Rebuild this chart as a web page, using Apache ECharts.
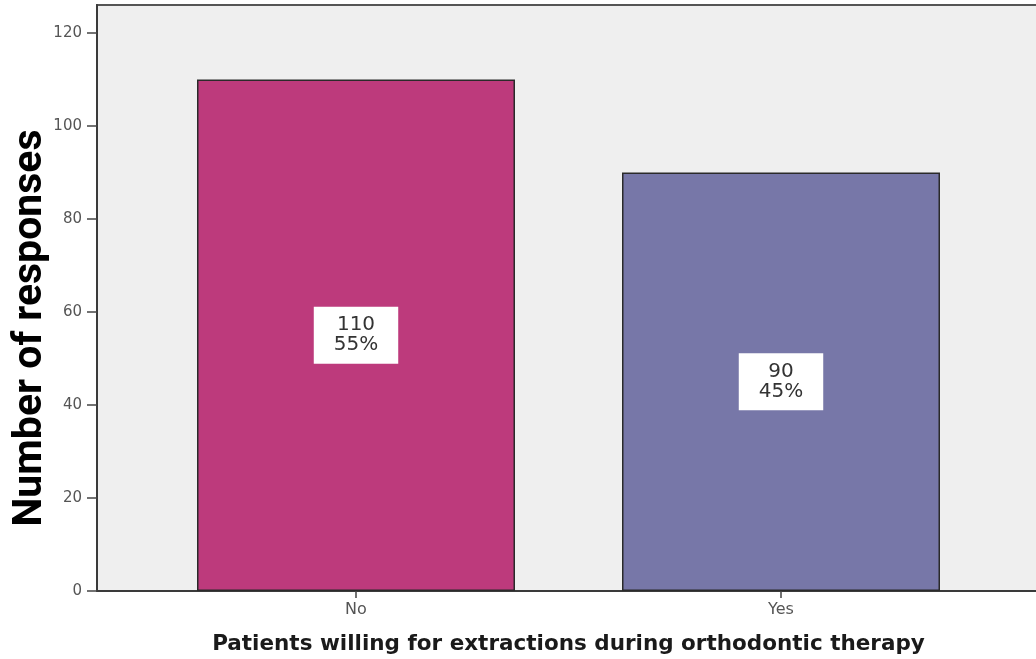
<!DOCTYPE html>
<html>
<head>
<meta charset="utf-8">
<script src="https://cdn.jsdelivr.net/npm/echarts@6/dist/echarts.min.js"></script>
<style>
html,body{margin:0;padding:0;background:#fff;}
#chart{width:1036px;height:659px;}
</style>
</head>
<body>
<div id="chart"></div>
<script>
var categories = ['No', 'Yes'];
var counts = [110, 90];
var percents = ['55%', '45%'];
var barColors = ['#BD3A7C', '#7777A8'];
var yTicks = [0, 20, 40, 60, 80, 100, 120];
var yMax = 126;

var chart = echarts.init(document.getElementById('chart'), null, {renderer: 'canvas'});

var seriesData = counts.map(function (v, i) {
  return {
    value: v,
    itemStyle: {color: barColors[i]},
    label: {formatter: counts[i] + '\n' + percents[i]}
  };
});

var option = {
  backgroundColor: '#ffffff',
  animation: false,
  grid: [
    {left: 97, top: 5, right: -80, bottom: 68, show: true, backgroundColor: '#efefef', borderColor: '#555', borderWidth: 2, outerBoundsMode: 'none', containLabel: false},
    {left: 143.5, width: 850, top: 5, bottom: 68, outerBoundsMode: 'none', containLabel: false}
  ],
  xAxis: [
    {
      gridIndex: 0, type: 'category', data: [''],
      axisLine: {show: true, lineStyle: {color: '#3a3a3a', width: 2}},
      axisTick: {show: false}, axisLabel: {show: false}, splitLine: {show: false}
    },
    {
      gridIndex: 1, type: 'category', data: categories,
      axisLine: {show: false},
      axisTick: {show: true, alignWithLabel: true, length: 7, lineStyle: {color: '#444', width: 1.5}},
      axisLabel: {color: '#555', fontSize: 16, fontFamily: 'DejaVu Sans', margin: 11},
      name: 'Patients willing for extractions during orthodontic therapy',
      nameLocation: 'middle', nameGap: 42, nameMoveOverlap: false,
      nameTextStyle: {color: '#1a1a1a', fontSize: 21.5, fontWeight: 'bold', fontFamily: 'DejaVu Sans', verticalAlign: 'top'}
    }
  ],
  yAxis: [
    {
      gridIndex: 0, type: 'value', min: 0, max: yMax, interval: 20,
      axisLine: {show: true, lineStyle: {color: '#3a3a3a', width: 2}},
      axisTick: {show: true, length: 10, customValues: yTicks, lineStyle: {color: '#444', width: 1.5}},
      axisLabel: {show: true, customValues: yTicks, color: '#555', fontSize: 15, fontFamily: 'DejaVu Sans', margin: 15},
      splitLine: {show: false},
      name: 'Number of responses', nameLocation: 'middle', nameGap: 46, nameRotate: 90, nameMoveOverlap: false,
      nameTextStyle: {color: '#000', fontSize: 41, fontWeight: 'bold', fontFamily: 'Roboto', padding: [0, 60, 0, 0]}
    },
    {
      gridIndex: 1, type: 'value', min: 0, max: yMax, show: false, splitLine: {show: false}
    }
  ],
  series: [
    {
      type: 'bar', xAxisIndex: 1, yAxisIndex: 1,
      barWidth: 318,
      data: seriesData,
      itemStyle: {borderColor: '#2a2a2a', borderWidth: 1.5},
      label: {
        show: true, position: 'inside',
        color: '#333', fontSize: 20, fontFamily: 'DejaVu Sans', lineHeight: 20,
        backgroundColor: '#ffffff', padding: [9, 20, 8, 20], align: 'center'
      }
    }
  ]
};
chart.setOption(option);
</script>
</body>
</html>
